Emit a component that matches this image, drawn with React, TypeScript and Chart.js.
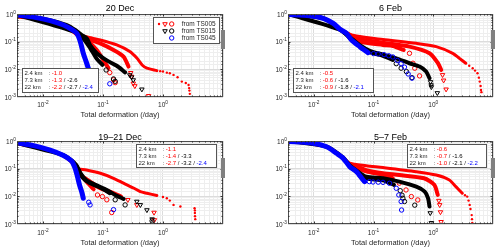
import React, { useEffect, useRef } from "react";
import { Chart, registerables } from "chart.js";

Chart.register(...registerables);

type Pt = [number, number];

// ---------------- axes & text ----------------
const X_MIN = 0.0037;
const X_MAX = 10;
const Y_MIN = 0.001;
const Y_MAX = 1;
const X_TICK_EXPS = [-2, -1, 0];
const Y_TICK_EXPS = [-3, -2, -1, 0];

const TITLES = ["20 Dec", "6 Feb", "19\u201321 Dec", "5\u20137 Feb"];
const X_LABEL = "Total deformation (/day)";
const RES_LABELS = ["2.4 km", "7.3 km", "22 km"];
const LEGEND_ROWS = ["from TS005", "from TS015", "from TS045"];

// slopes: rows 2.4 / 7.3 / 22 km ; columns TS005 / TS015 / TS045
const SLOPES_20DEC = [["-1.0"], ["-1.3", "-2.6"], ["-2.2", "-2.7", "-2.4"]];
const SLOPES_6FEB = [["-0.5"], ["-0.6", "-1.6"], ["-0.9", "-1.8", "-2.1"]];
const SLOPES_19_21DEC = [["-1.1"], ["-1.4", "-3.3"], ["-2.7", "-3.2", "-2.4"]];
const SLOPES_5_7FEB = [["-0.6"], ["-0.7", "-1.6"], ["-1.0", "-2.1", "-2.2"]];

// ---------------- 20 Dec ----------------
const DEC20_TS005_24_BAND: Pt[] = [[0.0037, 0.78], [0.007, 0.68], [0.013, 0.52], [0.022, 0.34], [0.035, 0.2], [0.053, 0.15], [0.09, 0.115], [0.17, 0.076], [0.28, 0.044], [0.37, 0.025], [0.45, 0.0144], [0.54, 0.011], [0.79, 0.009]];
const DEC20_TS005_24_TAIL: Pt[] = [[0.9, 0.0086], [1.0, 0.0083], [1.16, 0.0076], [1.3, 0.0072], [1.5, 0.0063], [1.75, 0.0052], [2.06, 0.0036], [2.4, 0.0032], [2.67, 0.0027], [2.73, 0.0021], [2.76, 0.0017], [2.8, 0.0013]];
const DEC20_TS005_73_BAND: Pt[] = [[0.035, 0.2], [0.053, 0.13], [0.09, 0.087], [0.15, 0.05], [0.22, 0.029], [0.267, 0.0126]];
const DEC20_TS005_73_TAIL: Pt[] = [[0.29, 0.0075], [0.3, 0.0055], [0.32, 0.0031], [0.34, 0.0025], [0.575, 0.0011]];
const DEC20_TS005_22_BAND: Pt[] = [[0.035, 0.2], [0.053, 0.115], [0.079, 0.05], [0.105, 0.019], [0.124, 0.011]];
const DEC20_TS005_22_TAIL: Pt[] = [[0.13, 0.0076], [0.15, 0.0042], [0.16, 0.0033]];
const DEC20_TS015_73_BAND: Pt[] = [[0.0037, 0.93], [0.013, 0.6], [0.025, 0.4], [0.035, 0.26], [0.045, 0.17], [0.054, 0.13], [0.061, 0.075], [0.079, 0.038], [0.116, 0.021], [0.17, 0.0135], [0.234, 0.0078]];
const DEC20_TS015_73_TAIL: Pt[] = [[0.28, 0.0062], [0.3, 0.0052], [0.32, 0.0041], [0.445, 0.0019]];
const DEC20_TS015_22_BAND: Pt[] = [[0.0037, 0.93], [0.035, 0.22], [0.05, 0.11], [0.061, 0.06], [0.079, 0.024], [0.098, 0.0145]];
const DEC20_TS015_22_TAIL: Pt[] = [[0.113, 0.0095], [0.15, 0.0045], [0.16, 0.0037]];
const DEC20_TS045_22_BAND: Pt[] = [[0.0037, 0.92], [0.007, 0.77], [0.0132, 0.58], [0.022, 0.4], [0.03, 0.28], [0.0367, 0.2], [0.042, 0.1], [0.047, 0.038], [0.0525, 0.019], [0.057, 0.011]];
const DEC20_TS045_22_TAIL: Pt[] = [[0.058, 0.0095], [0.13, 0.003]];

// ---------------- 6 Feb ----------------
const FEB6_TS005_24_BAND: Pt[] = [[0.0037, 0.97], [0.0144, 0.7], [0.0274, 0.3], [0.035, 0.21], [0.052, 0.16], [0.144, 0.12], [0.52, 0.087], [1.12, 0.066], [2.12, 0.038], [2.74, 0.025], [3.5, 0.0166]];
const FEB6_TS005_24_TAIL: Pt[] = [[4.0, 0.0135], [4.57, 0.011], [5.0, 0.009], [5.5, 0.0072], [5.8, 0.005], [6.0, 0.0036], [6.2, 0.0025], [6.3, 0.0018], [6.4, 0.0015]];
const FEB6_TS005_73_BAND: Pt[] = [[0.035, 0.21], [0.052, 0.13], [0.144, 0.092], [0.4, 0.066], [0.865, 0.038], [1.2, 0.0166], [1.36, 0.0095]];
const FEB6_TS005_73_TAIL: Pt[] = [[1.43, 0.0063], [1.49, 0.004], [1.64, 0.0019]];
const FEB6_TS005_22_BAND: Pt[] = [[0.035, 0.2], [0.059, 0.1], [0.144, 0.076], [0.212, 0.07], [0.32, 0.05]];
const FEB6_TS005_22_TAIL: Pt[] = [[0.4, 0.038], [0.457, 0.0166], [0.49, 0.011], [0.59, 0.0058]];
const FEB6_TS015_73_BAND: Pt[] = [[0.0037, 1.0], [0.0144, 0.7], [0.0274, 0.28], [0.0428, 0.13], [0.059, 0.075], [0.0865, 0.047], [0.144, 0.034], [0.24, 0.025], [0.4, 0.0166], [0.59, 0.0126], [0.76, 0.0083], [0.865, 0.0048]];
const FEB6_TS015_73_TAIL: Pt[] = [[0.9, 0.0035], [0.92, 0.0027], [0.93, 0.0023], [1.17, 0.0014]];
const FEB6_TS015_22_BAND: Pt[] = [[0.0037, 1.0], [0.0274, 0.27], [0.0428, 0.12], [0.059, 0.068], [0.0865, 0.042], [0.144, 0.031], [0.21, 0.022]];
const FEB6_TS015_22_TAIL: Pt[] = [[0.24, 0.016], [0.29, 0.011], [0.355, 0.0083], [0.44, 0.005]];
const FEB6_TS045_22_BAND: Pt[] = [[0.0037, 0.95], [0.0086, 0.87], [0.0144, 0.7], [0.0212, 0.46], [0.0274, 0.28], [0.0353, 0.2], [0.0428, 0.115], [0.059, 0.066], [0.081, 0.04]];
const FEB6_TS045_22_TAIL: Pt[] = [[0.1, 0.037], [0.12, 0.036], [0.15, 0.034], [0.18, 0.031], [0.21, 0.028], [0.25, 0.021], [0.29, 0.016], [0.33, 0.012], [0.38, 0.0068], [0.44, 0.0048]];

// ---------------- 19–21 Dec ----------------
const DEC19_TS005_24_BAND: Pt[] = [[0.0037, 0.8], [0.0132, 0.45], [0.022, 0.28], [0.032, 0.15], [0.036, 0.103], [0.0532, 0.09], [0.0905, 0.068], [0.15, 0.045], [0.22, 0.03], [0.33, 0.0196], [0.42, 0.0148], [0.54, 0.0129], [0.79, 0.0107]];
const DEC19_TS005_24_TAIL: Pt[] = [[1.0, 0.0095], [1.16, 0.0085], [1.3, 0.007], [1.5, 0.0049], [1.95, 0.0043], [3.36, 0.0037], [3.4, 0.0031], [3.4, 0.0025], [3.42, 0.0019], [3.45, 0.0015]];
const DEC19_TS005_73_BAND: Pt[] = [[0.036, 0.1], [0.0424, 0.059], [0.061, 0.034], [0.09, 0.0196], [0.13, 0.0148], [0.2, 0.0098]];
const DEC19_TS005_73_TAIL: Pt[] = [[0.26, 0.0075], [0.367, 0.0049], [0.71, 0.0026], [0.72, 0.0014]];
const DEC19_TS005_22_BAND: Pt[] = [[0.036, 0.1], [0.05, 0.04], [0.07, 0.018]];
const DEC19_TS005_22_TAIL: Pt[] = [[0.081, 0.0112], [0.098, 0.0098], [0.116, 0.0075], [0.14, 0.0026]];
const DEC19_TS015_73_BAND: Pt[] = [[0.0037, 0.85], [0.022, 0.31], [0.03, 0.2], [0.036, 0.135], [0.0424, 0.068], [0.0524, 0.039], [0.075, 0.026], [0.116, 0.017], [0.16, 0.0112], [0.22, 0.0081]];
const DEC19_TS015_73_TAIL: Pt[] = [[0.367, 0.0065], [0.42, 0.0049], [0.54, 0.0032], [0.66, 0.0015]];
const DEC19_TS015_22_BAND: Pt[] = [[0.036, 0.13], [0.045, 0.05], [0.06, 0.03], [0.09, 0.021], [0.13, 0.013]];
const DEC19_TS015_22_TAIL: Pt[] = [[0.16, 0.0075], [0.234, 0.0049], [0.66, 0.0013]];
const DEC19_TS045_22_BAND: Pt[] = [[0.0037, 0.87], [0.007, 0.68], [0.0132, 0.47], [0.022, 0.3], [0.03, 0.19], [0.0344, 0.103], [0.0377, 0.051], [0.0407, 0.026], [0.045, 0.0129], [0.047, 0.0085]];
const DEC19_TS045_22_TAIL: Pt[] = [[0.058, 0.0061], [0.061, 0.0049], [0.15, 0.0033]];

// ---------------- 5–7 Feb ----------------
const FEB5_TS005_24_BAND: Pt[] = [[0.0037, 0.98], [0.0164, 0.62], [0.031, 0.25], [0.04, 0.157], [0.0755, 0.128], [0.144, 0.11], [0.52, 0.078], [1.12, 0.059], [1.86, 0.039], [2.39, 0.0224], [3.06, 0.0129]];
const FEB5_TS005_24_TAIL: Pt[] = [[3.4, 0.011], [3.7, 0.0098], [3.9, 0.007], [4.07, 0.0049], [4.2, 0.0035], [4.4, 0.0021], [4.45, 0.0015], [4.5, 0.0011]];
const FEB5_TS005_73_BAND: Pt[] = [[0.04, 0.15], [0.0755, 0.089], [0.144, 0.068], [0.27, 0.059], [0.7, 0.045], [1.04, 0.026], [1.19, 0.0112]];
const FEB5_TS005_73_TAIL: Pt[] = [[1.24, 0.007], [1.28, 0.0049], [1.32, 0.0027], [1.35, 0.0012]];
const FEB5_TS005_22_BAND: Pt[] = [[0.04, 0.14], [0.0755, 0.08], [0.144, 0.06], [0.21, 0.045]];
const FEB5_TS005_22_TAIL: Pt[] = [[0.27, 0.03], [0.35, 0.017], [0.43, 0.0098], [0.55, 0.0074]];
const FEB5_TS015_73_BAND: Pt[] = [[0.0037, 1.0], [0.0164, 0.62], [0.031, 0.25], [0.04, 0.13], [0.052, 0.085], [0.0755, 0.051], [0.144, 0.045], [0.27, 0.034], [0.52, 0.0224], [0.72, 0.0148], [0.82, 0.0085], [0.865, 0.0043]];
const FEB5_TS015_73_TAIL: Pt[] = [[0.89, 0.0025], [0.93, 0.0011]];
const FEB5_TS015_22_BAND: Pt[] = [[0.04, 0.12], [0.052, 0.075], [0.0755, 0.045], [0.144, 0.038], [0.22, 0.026]];
const FEB5_TS015_22_TAIL: Pt[] = [[0.28, 0.016], [0.3, 0.011], [0.31, 0.0085], [0.33, 0.0065], [0.49, 0.0048]];
const FEB5_TS045_22_BAND: Pt[] = [[0.0037, 0.95], [0.0086, 0.87], [0.0164, 0.62], [0.024, 0.36], [0.031, 0.24], [0.04, 0.118], [0.052, 0.078], [0.067, 0.039], [0.071, 0.034]];
const FEB5_TS045_22_TAIL: Pt[] = [[0.085, 0.034], [0.098, 0.033], [0.12, 0.0325], [0.144, 0.032], [0.185, 0.0296], [0.24, 0.0196], [0.265, 0.0112], [0.29, 0.0065], [0.295, 0.0032]];

// ---------------- styling ----------------
const RED = "#ff0000";
const BLACK = "#000000";
const BLUE = "#0000ff";
const TEXT = "#262626";
const FONT = '"Liberation Sans", Arial, Helvetica, sans-serif';
const SLOPE_COLORS = [RED, BLACK, BLUE];

type Kind = "dot" | "tri" | "circ";
type Series = { band: Pt[]; tail: Pt[]; color: string; kind: Kind; width: number; order: number };

function panelSeries(d: Pt[][]): Series[] {
  // d: [ts005_24 band, tail, ts005_73 band, tail, ts005_22 band, tail, ts015_73 band, tail, ts015_22 band, tail, ts045_22 band, tail]
  return [
    { band: d[10], tail: d[11], color: BLUE, kind: "circ", width: 5, order: 0 },
    { band: d[8], tail: d[9], color: BLACK, kind: "circ", width: 4, order: 1 },
    { band: d[6], tail: d[7], color: BLACK, kind: "tri", width: 4, order: 2 },
    { band: d[4], tail: d[5], color: RED, kind: "circ", width: 4, order: 3 },
    { band: d[2], tail: d[3], color: RED, kind: "tri", width: 4, order: 4 },
    { band: d[0], tail: d[1], color: RED, kind: "dot", width: 3, order: 5 },
  ];
}

const PANEL_DATA = [
  [DEC20_TS005_24_BAND, DEC20_TS005_24_TAIL, DEC20_TS005_73_BAND, DEC20_TS005_73_TAIL, DEC20_TS005_22_BAND, DEC20_TS005_22_TAIL, DEC20_TS015_73_BAND, DEC20_TS015_73_TAIL, DEC20_TS015_22_BAND, DEC20_TS015_22_TAIL, DEC20_TS045_22_BAND, DEC20_TS045_22_TAIL],
  [FEB6_TS005_24_BAND, FEB6_TS005_24_TAIL, FEB6_TS005_73_BAND, FEB6_TS005_73_TAIL, FEB6_TS005_22_BAND, FEB6_TS005_22_TAIL, FEB6_TS015_73_BAND, FEB6_TS015_73_TAIL, FEB6_TS015_22_BAND, FEB6_TS015_22_TAIL, FEB6_TS045_22_BAND, FEB6_TS045_22_TAIL],
  [DEC19_TS005_24_BAND, DEC19_TS005_24_TAIL, DEC19_TS005_73_BAND, DEC19_TS005_73_TAIL, DEC19_TS005_22_BAND, DEC19_TS005_22_TAIL, DEC19_TS015_73_BAND, DEC19_TS015_73_TAIL, DEC19_TS015_22_BAND, DEC19_TS015_22_TAIL, DEC19_TS045_22_BAND, DEC19_TS045_22_TAIL],
  [FEB5_TS005_24_BAND, FEB5_TS005_24_TAIL, FEB5_TS005_73_BAND, FEB5_TS005_73_TAIL, FEB5_TS005_22_BAND, FEB5_TS005_22_TAIL, FEB5_TS015_73_BAND, FEB5_TS015_73_TAIL, FEB5_TS015_22_BAND, FEB5_TS015_22_TAIL, FEB5_TS045_22_BAND, FEB5_TS045_22_TAIL],
];
const PANEL_SLOPES = [SLOPES_20DEC, SLOPES_6FEB, SLOPES_19_21DEC, SLOPES_5_7FEB];

type Box = { x: number; y: number; w: number; h: number };
type Layout = {
  left: number; top: number; w: number; h: number;
  L: number; R: number; T: number; B: number;
  titleY: number; xLabelY: number; tickDy: number;
  stats: Box; legend: Box | null; bar: [number, number];
};

const LAYOUTS: Layout[] = [
  { left: 0, top: 0, w: 250, h: 125, L: 17, R: 223, T: 14, B: 97, titleY: 11, xLabelY: 116.5, tickDy: 9.5, stats: { x: 22, y: 68, w: 77, h: 25 }, legend: { x: 153, y: 17, w: 67, h: 27 }, bar: [30, 49] },
  { left: 250, top: 0, w: 250, h: 125, L: 38, R: 243, T: 14, B: 97, titleY: 11, xLabelY: 116.5, tickDy: 9.5, stats: { x: 43, y: 68, w: 81, h: 25 }, legend: null, bar: [30, 49] },
  { left: 0, top: 125, w: 250, h: 126, L: 17, R: 223, T: 16, B: 99, titleY: 14.5, xLabelY: 120, tickDy: 10.5, stats: { x: 136, y: 19, w: 81, h: 24 }, legend: null, bar: [33, 53] },
  { left: 250, top: 125, w: 250, h: 126, L: 38, R: 243, T: 16, B: 99, titleY: 14.5, xLabelY: 120, tickDy: 10.5, stats: { x: 157, y: 19, w: 80, h: 24 }, legend: null, bar: [33, 53] },
];

function marker(ctx: CanvasRenderingContext2D, kind: Kind, color: string, x: number, y: number) {
  ctx.save();
  ctx.strokeStyle = color;
  ctx.fillStyle = color;
  ctx.lineWidth = 1;
  if (kind === "dot") {
    ctx.beginPath();
    ctx.arc(x, y, 1.2, 0, Math.PI * 2);
    ctx.fill();
  } else if (kind === "circ") {
    ctx.beginPath();
    ctx.arc(x, y, 2.2, 0, Math.PI * 2);
    ctx.stroke();
  } else {
    const r = 2.6;
    ctx.beginPath();
    ctx.moveTo(x - r * 0.87, y - r * 0.5);
    ctx.lineTo(x + r * 0.87, y - r * 0.5);
    ctx.lineTo(x, y + r);
    ctx.closePath();
    ctx.stroke();
  }
  ctx.restore();
}

function drawPow(ctx: CanvasRenderingContext2D, exp: number, x: number, y: number, align: "center" | "right") {
  const base = "10";
  const sup = String(exp);
  ctx.textAlign = "left";
  ctx.textBaseline = "alphabetic";
  ctx.font = `6.5px ${FONT}`;
  const wb = ctx.measureText(base).width;
  ctx.font = `4.8px ${FONT}`;
  const ws = ctx.measureText(sup).width;
  const total = wb + ws;
  const x0 = align === "center" ? x - total / 2 : x - total;
  ctx.fillStyle = TEXT;
  ctx.font = `6.5px ${FONT}`;
  ctx.fillText(base, x0, y);
  ctx.font = `4.8px ${FONT}`;
  ctx.fillText(sup, x0 + wb, y - 3);
}

function makeDecor(idx: number) {
  const lay = LAYOUTS[idx];
  const slopes = PANEL_SLOPES[idx];
  return {
    id: "decor" + idx,
    afterDatasetsDraw(chart: any) {
      const ctx: CanvasRenderingContext2D = chart.ctx;
      const xs = chart.scales.x;
      const ys = chart.scales.y;
      const { left, right, top, bottom } = chart.chartArea;
      ctx.save();
      // frame
      ctx.strokeStyle = "#4d4d4d";
      ctx.lineWidth = 1;
      ctx.strokeRect(left + 0.5, top + 0.5, right - left - 1, bottom - top - 1);
      // tick marks
      ctx.strokeStyle = "#333";
      ctx.beginPath();
      for (const t of xs.ticks) {
        if (t.value <= X_MIN || t.value >= X_MAX) continue;
        const px = Math.round(xs.getPixelForValue(t.value)) + 0.5;
        const len = t.major ? 2.5 : 1.5;
        ctx.moveTo(px, bottom); ctx.lineTo(px, bottom - len);
        ctx.moveTo(px, top); ctx.lineTo(px, top + len);
      }
      for (const t of ys.ticks) {
        if (t.value <= Y_MIN || t.value >= Y_MAX) continue;
        const py = Math.round(ys.getPixelForValue(t.value)) + 0.5;
        const len = t.major ? 2.5 : 1.5;
        ctx.moveTo(left, py); ctx.lineTo(left + len, py);
        ctx.moveTo(right, py); ctx.lineTo(right - len, py);
      }
      ctx.stroke();
      // tick labels
      for (const e of X_TICK_EXPS) {
        drawPow(ctx, e, xs.getPixelForValue(Math.pow(10, e)), bottom + lay.tickDy, "center");
      }
      for (const e of Y_TICK_EXPS) {
        drawPow(ctx, e, left - 1, ys.getPixelForValue(Math.pow(10, e)) + 2.5, "right");
      }
      // title
      ctx.fillStyle = "#000";
      ctx.textAlign = "center";
      ctx.font = `9px ${FONT}`;
      ctx.fillText(TITLES[idx], (left + right) / 2, lay.titleY);
      // x label
      ctx.fillStyle = TEXT;
      ctx.font = `7.5px ${FONT}`;
      ctx.fillText(X_LABEL, (left + right) / 2, lay.xLabelY);
      // gray bar
      ctx.fillStyle = "#808080";
      ctx.fillRect(right - 2, lay.bar[0], 4, lay.bar[1] - lay.bar[0]);
      // stats box
      const sb = lay.stats;
      ctx.fillStyle = "#fff";
      ctx.fillRect(sb.x, sb.y, sb.w, sb.h);
      ctx.strokeStyle = "#555";
      ctx.strokeRect(sb.x + 0.5, sb.y + 0.5, sb.w - 1, sb.h - 1);
      ctx.textAlign = "left";
      ctx.font = `6px ${FONT}`;
      for (let i = 0; i < 3; i++) {
        const y = sb.y + 7 + i * 7.2;
        ctx.fillStyle = TEXT;
        ctx.fillText(RES_LABELS[i], sb.x + 2.5, y);
        let x = sb.x + 2.5 + 24;
        ctx.fillText(": ", x, y);
        x += ctx.measureText(": ").width;
        slopes[i].forEach((v, j) => {
          if (j > 0) {
            ctx.fillStyle = TEXT;
            ctx.fillText(" / ", x, y);
            x += ctx.measureText(" / ").width;
          }
          ctx.fillStyle = SLOPE_COLORS[j];
          ctx.fillText(v, x, y);
          x += ctx.measureText(v).width;
        });
      }
      // legend box
      const lg = lay.legend;
      if (lg) {
        ctx.fillStyle = "#fff";
        ctx.fillRect(lg.x, lg.y, lg.w, lg.h);
        ctx.strokeStyle = "#555";
        ctx.strokeRect(lg.x + 0.5, lg.y + 0.5, lg.w - 1, lg.h - 1);
        const rowsKinds: [Kind, string][][] = [
          [["dot", RED], ["tri", RED], ["circ", RED]],
          [["tri", BLACK], ["circ", BLACK]],
          [["circ", BLUE]],
        ];
        const mx: Record<Kind, number> = { dot: lg.x + 6, tri: lg.x + 12, circ: lg.x + 18.7 };
        ctx.font = `6.5px ${FONT}`;
        for (let i = 0; i < 3; i++) {
          const yb = lg.y + 9.3 + i * 7;
          for (const [k, c] of rowsKinds[i]) marker(ctx, k, c, mx[k], yb - 2.3);
          ctx.fillStyle = TEXT;
          ctx.fillText(LEGEND_ROWS[i], lg.x + 28.7, yb);
        }
      }
      ctx.restore();
    },
  };
}

function buildDatasets(idx: number) {
  const ds: any[] = [];
  for (const s of panelSeries(PANEL_DATA[idx])) {
    ds.push({
      data: s.band.map(([x, y]) => ({ x, y })),
      showLine: true,
      borderColor: s.color,
      backgroundColor: s.color,
      borderWidth: s.width,
      borderCapStyle: "round",
      borderJoinStyle: "round",
      tension: 0.25,
      pointRadius: 0,
      order: s.order,
    });
    ds.push({
      data: s.tail.map(([x, y]) => ({ x, y })),
      showLine: false,
      pointStyle: s.kind === "tri" ? "triangle" : "circle",
      rotation: s.kind === "tri" ? 180 : 0,
      pointRadius: s.kind === "dot" ? 1.2 : s.kind === "tri" ? 2.6 : 2.2,
      pointBorderWidth: s.kind === "dot" ? 0 : 1,
      borderColor: s.color,
      pointBorderColor: s.color,
      pointBackgroundColor: s.kind === "dot" ? s.color : "rgba(0,0,0,0)",
      order: s.order,
    });
  }
  return ds;
}

function Panel({ idx }: { idx: number }) {
  const ref = useRef<HTMLCanvasElement>(null);
  const lay = LAYOUTS[idx];
  useEffect(() => {
    const gridColor = (c: any) => (c.tick && c.tick.major ? "#dcdcdc" : "#eeeeee");
    const chart = new Chart(ref.current as HTMLCanvasElement, {
      type: "scatter",
      data: { datasets: buildDatasets(idx) },
      options: {
        animation: false,
        responsive: false,
        devicePixelRatio: 1,
        events: [],
        layout: { padding: { left: lay.L, right: lay.w - lay.R, top: lay.T, bottom: lay.h - lay.B } },
        plugins: { legend: { display: false }, tooltip: { enabled: false }, title: { display: false } },
        scales: {
          x: {
            type: "logarithmic",
            min: X_MIN,
            max: X_MAX,
            ticks: { display: false },
            grid: { color: gridColor, drawTicks: false, lineWidth: 1 },
            border: { display: false },
            afterFit: (s: any) => { s.height = 0; },
          },
          y: {
            type: "logarithmic",
            min: Y_MIN,
            max: Y_MAX,
            ticks: { display: false },
            grid: { color: gridColor, drawTicks: false, lineWidth: 1 },
            border: { display: false },
            afterFit: (s: any) => { s.width = 0; },
          },
        },
      } as any,
      plugins: [makeDecor(idx)],
    });
    return () => chart.destroy();
  }, []);
  return (
    <canvas
      ref={ref}
      width={lay.w}
      height={lay.h}
      style={{ position: "absolute", left: lay.left, top: lay.top, width: lay.w, height: lay.h }}
    />
  );
}

export default function App() {
  return (
    <div style={{ position: "fixed", left: 0, top: 0, width: 500, height: 251, background: "#fff", overflow: "hidden" }}>
      {[0, 1, 2, 3].map((i) => (
        <Panel key={i} idx={i} />
      ))}
    </div>
  );
}
